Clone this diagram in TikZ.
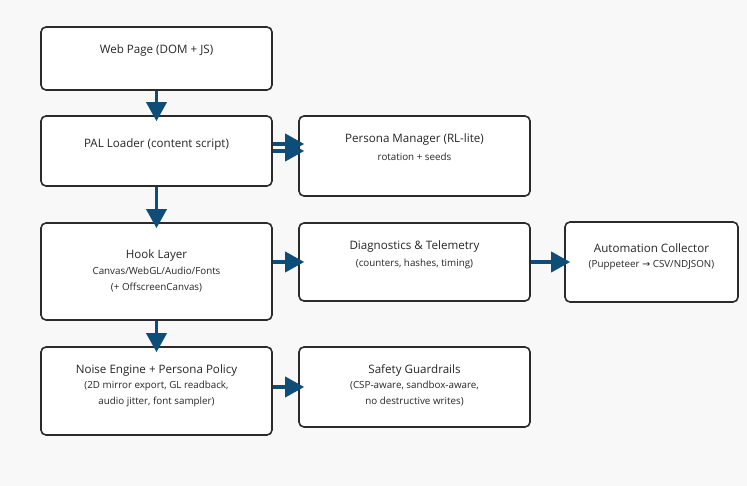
\documentclass[tikz,border=0pt]{standalone}
\usepackage{fontspec}
\setmainfont{Open Sans}
\newfontfamily\symfont{DejaVu Sans}
\usetikzlibrary{arrows.meta}
\definecolor{bgcol}{HTML}{F8F8F8}
\definecolor{edgecol}{HTML}{0E4D78}
\definecolor{boxline}{HTML}{2B2B2B}

\begin{document}
\begin{tikzpicture}[
        x=1pt,y=-1pt,
        box/.style={rectangle,draw=boxline,fill=white,line width=1.6pt,rounded corners=5pt,minimum width=231pt,inner sep=0pt},
        title/.style={font=\fontsize{11.6}{13}\selectfont,text=black!85,inner sep=0pt},
        sub/.style={font=\fontsize{9.8}{16}\selectfont,text=black!85,align=center,inner sep=0pt},
        edge/.style={-{Triangle[length=19pt,width=20pt]},line width=3.6pt,edgecol,shorten >=-6pt}
    ]
        % Background
        \fill[bgcol] (0,0) rectangle (747,486);

        % Define the boxes
        \node[box,minimum height=63pt] (web) at (156.5,58.5) {};
        \node[box,minimum height=70pt] (pal) at (156.5,151) {};
        \node[box,minimum height=97pt] (hook) at (156.5,271.5) {};
        \node[box,minimum height=88pt] (noise) at (156.5,391) {};
        \node[box,minimum height=80pt] (persona) at (414.5,156) {};
        \node[box,minimum height=78pt] (diag) at (414.5,262) {};
        \node[box,minimum height=80pt,minimum width=173pt] (auto) at (651.5,262) {};
        \node[box,minimum height=80pt] (safety) at (414.5,387) {};

        % Texts of the boxes
        \node[title] (webtxt) at (156.5,50) {Web Page (DOM + JS)};
        \node[title] (paltxt) at (156.5,144) {PAL Loader (content script)};
        \node[title] (hooktxt) at (156.5,255) {Hook Layer};
        \node[sub] (hooksub) at (156.5,280) {Canvas/WebGL/Audio/Fonts\\(+ OffscreenCanvas)};
        \node[title] (noisetxt) at (156.5,370) {Noise Engine + Persona Policy};
        \node[sub] (noisesub) at (156.5,394) {(2D mirror export, GL readback,\\audio jitter, font sampler)};
        \node[title] (personatxt) at (414.5,139) {Persona Manager (RL-lite)};
        \node[sub] (personasub) at (414.5,157) {rotation + seeds};
        \node[title] (diagtxt) at (414.5,246) {Diagnostics \& Telemetry};
        \node[sub] (diagsub) at (414.5,264) {(counters, hashes, timing)};
        \node[title] (autotxt) at (651.5,248) {Automation Collector};
        \node[sub] (autosub) at (651.5,265) {(Puppeteer {\symfont →} CSV/NDJSON)};
        \node[title] (safetytxt) at (414.5,370) {Safety Guardrails};
        \node[sub] (safetysub) at (414.5,394) {(CSP-aware, sandbox-aware,\\no destructive writes)};

        % Draw the arrows
        \draw[edge] (web) -- (pal);
        \draw[edge] (pal) -- (hook);
        \draw[edge] (hook) -- (noise);
        \draw[edge] ([yshift=7pt]pal.east) -- ([yshift=7pt]persona.west |- pal.east);
        \draw[edge] (pal.east) -- (persona.west |- pal.east);
        \draw[edge] (hook.east |- diag.west) -- (diag.west);
        \draw[edge] (diag) -- (auto);
        \draw[edge] (noise.east |- safety.west) -- (safety.west);
    \end{tikzpicture}
\end{document}
